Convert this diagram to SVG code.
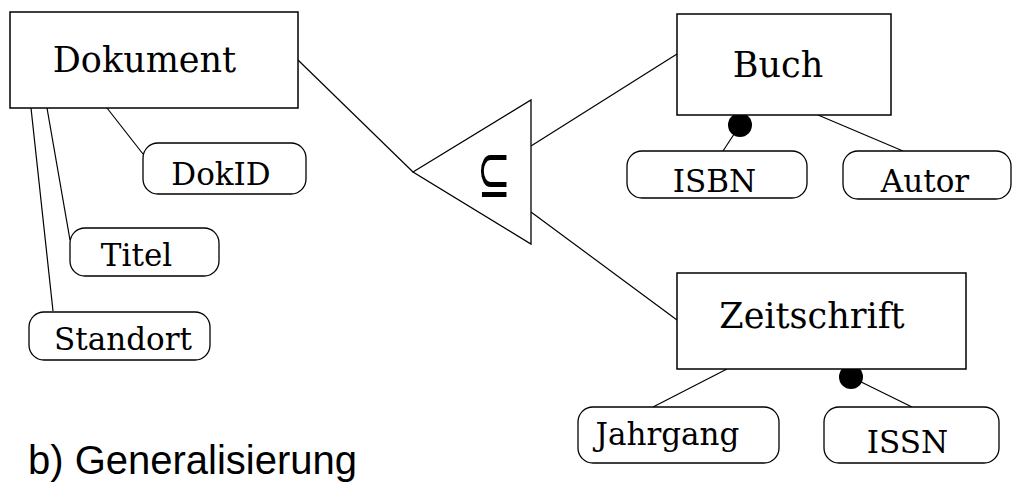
<svg xmlns="http://www.w3.org/2000/svg" width="1013" height="485" viewBox="0 0 1013 485">
<style>
.ent{fill:#fff;stroke:#000;stroke-width:1.5}
.att{fill:#fff;stroke:#000;stroke-width:1.3}
.lbl{font-family:"DejaVu Serif",serif;fill:#000;text-anchor:middle}
.e{font-size:35px}
.a{font-size:31px}
.ln{stroke:#000;stroke-width:1.2;fill:none}
</style>
<g id="connectors">
<line class="ln" x1="298" y1="60" x2="413" y2="172"/>
<line class="ln" x1="531" y1="146" x2="677" y2="54"/>
<line class="ln" x1="531" y1="212" x2="677" y2="320"/>
<line class="ln" x1="107" y1="108" x2="143" y2="154"/>
<line class="ln" x1="47" y1="108" x2="70" y2="240"/>
<line class="ln" x1="31" y1="108" x2="53" y2="311"/>
<line class="ln" x1="740" y1="125" x2="723" y2="151"/>
<line class="ln" x1="818" y1="115" x2="903" y2="151"/>
<line class="ln" x1="727" y1="369" x2="653" y2="407"/>
<line class="ln" x1="851" y1="377" x2="912" y2="407"/>
<circle cx="740" cy="125" r="12" fill="#000"/>
<circle cx="851" cy="377" r="12" fill="#000"/>
</g>
<g id="isa">
<polygon points="413,172 531,100 531,244" fill="#fff" stroke="#000" stroke-width="1.3"/>
<text transform="translate(494,197) scale(1,1.7)" x="0" y="0" font-family="DejaVu Sans,sans-serif" font-size="40" text-anchor="middle">⊆</text>
</g>
<g id="dokument">
<rect class="ent" x="10" y="12" width="288" height="96"/>
<text class="lbl e" x="144.5" y="72">Dokument</text>
</g>
<g id="buch">
<rect class="ent" x="677" y="14" width="214" height="101"/>
<text class="lbl e" x="778" y="77">Buch</text>
</g>
<g id="zeitschrift">
<rect class="ent" x="677" y="273" width="289" height="96"/>
<text class="lbl e" x="812" y="328">Zeitschrift</text>
</g>
<g id="dokid">
<rect class="att" x="143" y="143" width="163" height="51" rx="15"/>
<text class="lbl a" x="221" y="185">DokID</text>
</g>
<g id="titel">
<rect class="att" x="70" y="228" width="149" height="48" rx="15"/>
<text class="lbl a" x="136.5" y="266">Titel</text>
</g>
<g id="standort">
<rect class="att" x="29" y="312" width="181" height="48" rx="15"/>
<text class="lbl a" x="123" y="350">Standort</text>
</g>
<g id="isbn">
<rect class="att" x="627" y="151" width="180" height="47" rx="15"/>
<text class="lbl a" x="714.5" y="192">ISBN</text>
</g>
<g id="autor">
<rect class="att" x="843" y="151" width="168" height="48" rx="15"/>
<text class="lbl a" x="925" y="192">Autor</text>
</g>
<g id="jahrgang">
<rect class="att" x="578" y="407" width="201" height="56" rx="15"/>
<text class="lbl a" x="667.5" y="445">Jahrgang</text>
</g>
<g id="issn">
<rect class="att" x="824" y="407" width="175" height="56" rx="15"/>
<text class="lbl a" x="907.5" y="453">ISSN</text>
</g>
<text x="28" y="474" font-family="Liberation Sans,Arial,sans-serif" font-size="40">b) Generalisierung</text>
</svg>
